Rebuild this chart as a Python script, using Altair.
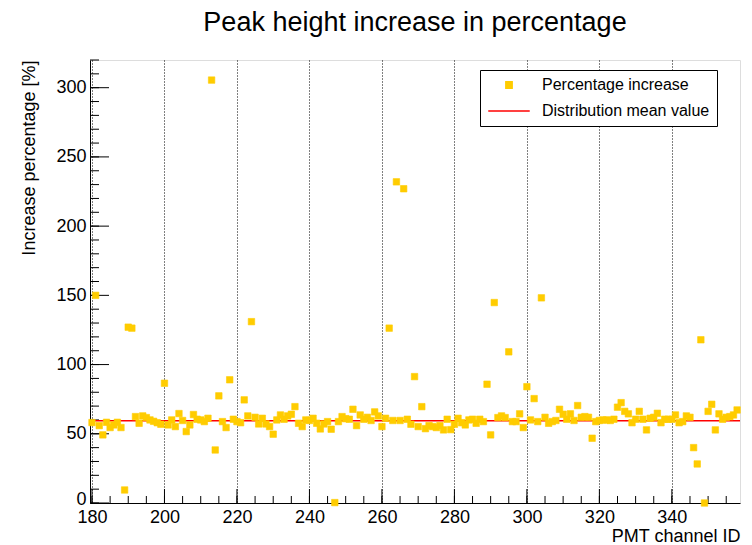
import altair as alt
import pandas as pd

# ---- data ----
channels = list(range(180, 359))
increase = [
    58.1, 150.0, 55.9, 49.2, 58.3, 54.5, 56.4, 58.3, 54.5, 9.4,      # 180-189
    127.0, 126.3, 62.4, 57.6, 62.9, 61.7, 60.0, 59.0, 58.0, 56.9,    # 190-199
    86.5, 56.4, 60.0, 55.2, 64.6, 59.6, 51.6, 56.4, 63.9, 60.5,      # 200-209
    60.0, 58.8, 61.2, 305.5, 38.3, 77.4, 58.8, 54.5, 89.0, 60.5,     # 210-219
    58.8, 58.0, 74.5, 62.9, 131.0, 61.9, 57.1, 61.2, 57.1, 55.2,     # 220-229
    49.7, 60.0, 63.6, 60.5, 62.9, 64.1, 69.6, 57.6, 55.2, 60.0,      # 230-239
    59.6, 61.2, 57.6, 53.5, 57.1, 58.8, 53.3, 0.3, 58.8, 62.4,       # 240-249
    60.9, 60.5, 67.7, 55.9, 63.6, 60.5, 61.9, 59.6, 65.8, 62.9,      # 250-259
    55.2, 61.2, 126.3, 59.6, 232.0, 59.6, 227.0, 60.5, 56.9, 91.3,   # 260-269
    55.2, 69.6, 53.7, 55.9, 55.2, 54.5, 55.9, 52.8, 60.5, 53.0,      # 270-279
    56.9, 61.2, 58.0, 56.4, 60.0, 60.5, 57.6, 60.5, 58.8, 85.8,      # 280-289
    49.2, 144.8, 61.7, 62.9, 61.7, 109.2, 58.8, 58.8, 64.4, 54.5,    # 290-299
    84.0, 60.0, 75.4, 58.8, 148.2, 61.9, 57.6, 58.8, 59.6, 67.7,     # 300-309
    64.1, 60.5, 64.4, 59.6, 70.4, 61.9, 62.4, 61.9, 46.8, 58.8,      # 310-319
    59.6, 60.0, 60.0, 59.6, 60.5, 69.2, 72.5, 66.2, 64.4, 58.0,      # 320-329
    60.5, 66.2, 60.5, 52.8, 61.2, 61.9, 64.8, 58.0, 60.5, 60.5,      # 330-339
    60.5, 63.6, 58.0, 58.8, 62.9, 61.9, 40.0, 28.2, 117.9, 0.0,      # 340-349
    66.2, 71.3, 52.8, 64.4, 60.5, 61.9, 62.4, 63.6, 67.2,            # 350-358
]
mean_value = 59.4
series_names = ["Percentage increase", "Distribution mean value"]
series_colors = ["#FFCC00", "#FF0000"]
series_shapes = ["M-1,-1H1V1H-1Z", "M-6.4,0H6.4"]

x_major = list(range(180, 360, 20))
x_minor = list(range(180, 359, 5))
y_major = list(range(0, 321, 50))
y_minor = list(range(0, 321, 10))
x_domain = [179.45, 358.8]
y_domain = [0, 320]

W, H = 650, 443
FONT = "Liberation Sans"

pts = pd.DataFrame({"channel": channels, "value": increase, "series": series_names[0]})
mean_df = pd.DataFrame({"value": [mean_value], "series": [series_names[1]]})

xs = alt.Scale(domain=x_domain, nice=False, zero=False)
ys = alt.Scale(domain=y_domain, nice=False, zero=False)
col_scale = alt.Scale(domain=series_names, range=series_colors)
shp_scale = alt.Scale(domain=series_names, range=series_shapes)

legend = alt.Legend(
    title=None, orient="none", legendX=390, legendY=10, direction="vertical",
    strokeColor="black", fillColor="white", padding=7,
    labelFont=FONT, labelFontSize=16, labelColor="black", labelOffset=25, labelLimit=400,
    symbolOffset=14, symbolSize=42, symbolStrokeWidth=1.3, rowPadding=10,
)

x_axis = alt.Axis(
    values=x_major, title="PMT channel ID", grid=True, gridDash=[1, 2], gridColor="black",
    gridOpacity=1, gridWidth=1, ticks=False, domainColor="black",
    labelFont=FONT, labelFontSize=18, labelColor="black", labelPadding=5,
    titleFont=FONT, titleFontSize=18, titleFontWeight="normal", titleColor="black",
    titleAnchor="end", titleAlign="right", titleX=W, titleY=38, titleBaseline="alphabetic",
)
y_axis = alt.Axis(
    values=y_major, title="Increase percentage [%]", grid=False, ticks=False, domainColor="black",
    labelFont=FONT, labelFontSize=18, labelColor="black", labelPadding=4,
    labelFlush=True, labelFlushOffset=5,
    titleFont=FONT, titleFontSize=18, titleFontWeight="normal", titleColor="black",
    titleAngle=-90, titleAlign="right", titleBaseline="middle", titleX=-61, titleY=0,
)

points = alt.Chart(pts).mark_point(filled=True, size=42, opacity=1, strokeWidth=0.6).encode(
    x=alt.X("channel:Q", scale=xs, axis=x_axis),
    y=alt.Y("value:Q", scale=ys, axis=y_axis),
    fill=alt.Fill("series:N", scale=col_scale, legend=legend),
    stroke=alt.Stroke("series:N", scale=col_scale, legend=legend),
    shape=alt.Shape("series:N", scale=shp_scale, legend=legend),
)

mean_rule = alt.Chart(mean_df).mark_rule(strokeWidth=1.3).encode(
    y=alt.Y("value:Q", scale=ys),
    stroke=alt.Stroke("series:N", scale=col_scale, legend=legend),
)

def xticks(vals, length):
    return alt.Chart(pd.DataFrame({"t": vals})).mark_rule(color="black", strokeWidth=1).encode(
        x=alt.X("t:Q", scale=xs), y=alt.value(H), y2=alt.value(H - length)
    )

def yticks(vals, length):
    return alt.Chart(pd.DataFrame({"t": vals})).mark_rule(color="black", strokeWidth=1).encode(
        y=alt.Y("t:Q", scale=ys), x=alt.value(0), x2=alt.value(length)
    )

chart = alt.layer(
    xticks(x_minor, 7), xticks(x_major, 14), yticks(y_minor, 9), yticks(y_major, 19),
    mean_rule, points,
).properties(
    width=W, height=H,
    title=alt.TitleParams(
        "Peak height increase in percentage", font=FONT, fontSize=27, fontWeight="normal",
        color="black", anchor="middle", frame="group", baseline="alphabetic", offset=2,
    ),
    autosize=alt.AutoSizeParams(type="none"),
    padding={"left": 90, "top": 60, "right": 12, "bottom": 42},
).configure_view(stroke="black", strokeWidth=1).configure(background="white")

chart.save("out.html", embed_options={"renderer": "svg", "actions": False})
